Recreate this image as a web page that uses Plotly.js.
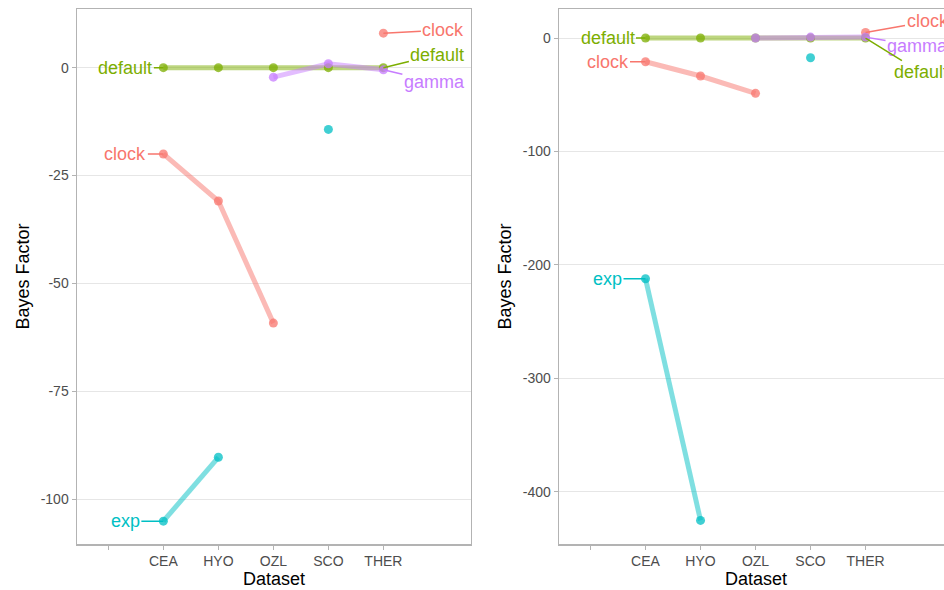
<!DOCTYPE html>
<html>
<head>
<meta charset="utf-8">
<script src="https://cdn.plot.ly/plotly-3.0.1.min.js"></script>
<style>
html,body{margin:0;padding:0;overflow:hidden;background:#fff;}
#chart{width:960px;height:590px;}
</style>
</head>
<body>
<div id="chart"></div>
<script>
// ---- data ----
var datasets = ["CEA", "HYO", "OZL", "SCO", "THER"];
var tickCats = [" ", "CEA", "HYO", "OZL", "SCO", "THER"];
var models = ["clock", "default", "exp", "gamma"];

// left panel
var clockL   = [-20.0, -30.9, -59.2, null, 8.0];
var defaultL = [0, 0, 0, 0, 0];
var expL     = [-105.1, -90.3, null, -14.3, null];
var gammaL   = [null, null, -2.2, 0.9, -0.5];
var yTicksL  = [-100, -75, -50, -25, 0];
var yTextL   = ["-100", "-75", "-50", "-25", "0"];

// right panel
var clockR   = [-20.9, -33.5, -48.8, null, 4.9];
var defaultR = [0, 0, 0, 0, 0];
var expR     = [-212.3, -425.4, null, -17.4, null];
var gammaR   = [null, null, 0, 0.8, 0.8];
var yTicksR  = [-400, -300, -200, -100, 0];
var yTextR   = ["-400", "-300", "-200", "-100", "0"];

var colors = {clock: "248,118,109", "default": "124,174,0", exp: "0,191,196", gamma: "199,124,255"};
var hex = {clock: "#F8766D", "default": "#7CAE00", exp: "#00BFC4", gamma: "#C77CFF"};

var left = {clock: clockL, "default": defaultL, exp: expL, gamma: gammaL};
var right = {clock: clockR, "default": defaultR, exp: expR, gamma: gammaR};

var traces = [];
function addPanel(series, xa, ya) {
  models.forEach(function (m) {
    traces.push({
      type: "scatter", mode: "lines", x: datasets, y: series[m],
      xaxis: xa, yaxis: ya, connectgaps: false, hoverinfo: "skip", showlegend: false,
      line: {color: "rgba(" + colors[m] + ",0.5)", width: 5}
    });
  });
  models.forEach(function (m) {
    traces.push({
      type: "scatter", mode: "markers", x: datasets, y: series[m],
      xaxis: xa, yaxis: ya, hoverinfo: "skip", showlegend: false,
      marker: {color: "rgba(" + colors[m] + ",0.75)", size: 9}
    });
  });
}
addPanel(left, "x", "y");
addPanel(right, "x2", "y2");

function lab(m, xi, series, xa, ya, ax, ay) {
  return {
    x: datasets[xi], y: series[m][xi], xref: xa, yref: ya,
    text: m, showarrow: true, arrowhead: 0, arrowwidth: 1.5, arrowcolor: hex[m],
    ax: ax, ay: ay, standoff: 0,
    font: {family: "Liberation Sans, Arial, sans-serif", size: 18, color: hex[m]}
  };
}

var annotations = [
  lab("default", 0, left, "x", "y", -38, 0),
  lab("clock", 0, left, "x", "y", -38, 0),
  lab("exp", 0, left, "x", "y", -38, 0),
  lab("clock", 4, left, "x", "y", 60, -3),
  lab("default", 4, left, "x", "y", 54, -13),
  lab("gamma", 4, left, "x", "y", 51, 12),
  lab("default", 0, right, "x2", "y2", -38, 0),
  lab("clock", 0, right, "x2", "y2", -38, 0),
  lab("exp", 0, right, "x2", "y2", -38, 0),
  lab("clock", 4, right, "x2", "y2", 62, -11),
  lab("gamma", 4, right, "x2", "y2", 52, 9),
  lab("default", 4, right, "x2", "y2", 55, 34)
];

var font = {family: "Liberation Sans, Arial, sans-serif"};
function xaxis(domain, anchor) {
  return {
    domain: domain, anchor: anchor, type: "category",
    categoryorder: "array", categoryarray: tickCats,
    tickmode: "array", tickvals: tickCats, ticktext: tickCats,
    range: [-0.57, 6.59], showgrid: false, zeroline: false,
    showline: true, linecolor: "#b3b3b3", linewidth: 1.5, mirror: true,
    ticks: "outside", ticklen: 4, tickcolor: "#b3b3b3",
    tickfont: {family: font.family, size: 14, color: "#4d4d4d"},
    title: {text: "Dataset", font: {family: font.family, size: 18, color: "#000"}, standoff: 4},
    automargin: false, fixedrange: true
  };
}
function yaxis(range, tv, tt, anchor) {
  return {
    domain: [0, 1], anchor: anchor, range: range,
    tickmode: "array", tickvals: tv, ticktext: tt,
    showgrid: true, gridcolor: "#e6e6e6", gridwidth: 1, zeroline: false,
    showline: true, linecolor: "#b3b3b3", linewidth: 1.5, mirror: true,
    ticks: "outside", ticklen: 4, tickcolor: "#b3b3b3",
    tickfont: {family: font.family, size: 14, color: "#4d4d4d"},
    title: {text: "Bayes Factor", font: {family: font.family, size: 18, color: "#000"}, standoff: 6},
    automargin: false, fixedrange: true
  };
}

var layout = {
  width: 960, height: 590,
  margin: {l: 77, r: 7, t: 9, b: 46},
  paper_bgcolor: "#fff", plot_bgcolor: "#fff",
  showlegend: false, hovermode: false,
  font: font,
  xaxis: xaxis([0, 0.4496], "y"),
  yaxis: yaxis([-110.4, 13.6], yTicksL, yTextL, "x"),
  xaxis2: xaxis([0.5504, 1], "y2"),
  yaxis2: yaxis([-446.2, 25.6], yTicksR, yTextR, "x2"),
  annotations: annotations
};

Plotly.newPlot("chart", traces, layout, {displayModeBar: false, staticPlot: true});
</script>
</body>
</html>
